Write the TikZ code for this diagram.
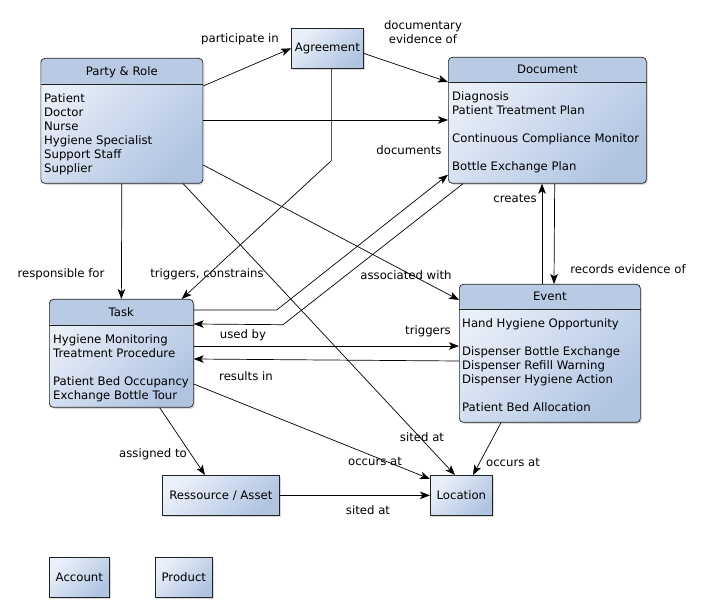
\documentclass[tikz,border=0pt]{standalone}
\usepackage{fontspec}
\setmainfont{DejaVu Sans}
\usetikzlibrary{arrows.meta,shadows}
\definecolor{headc}{RGB}{185,202,228}
\definecolor{lightc}{RGB}{234,240,249}
\definecolor{darkc}{RGB}{176,196,226}
\definecolor{edgec}{RGB}{35,35,35}
\newcommand\firstline{\rule{0pt}{10pt}}
\begin{document}
\begin{tikzpicture}[x=1pt,y=-1pt,
  every node/.style={font=\fontsize{11.7}{14}\selectfont},
  box/.style={draw=edgec, line width=0.7pt, anchor=north west, inner sep=0pt,
    top color=lightc, bottom color=darkc, shading angle=45,
    drop shadow={shadow xshift=1.5pt,shadow yshift=-1.5pt,opacity=0.3}},
  cbox/.style={box, rounded corners=4pt,
    path picture={\fill[headc] (path picture bounding box.north west) rectangle ([yshift=-#1]path picture bounding box.north east);}},
  sep/.style={draw=edgec, line width=0.7pt},
  items/.style={anchor=north west, align=left, inner sep=0pt},
  lbl/.style={anchor=base, inner sep=0pt},
  lbls/.style={anchor=north, align=center, inner sep=0pt},
  arr/.style={draw=black, line width=0.7pt, -{Stealth[length=10pt,width=7.5pt,inset=2.5pt]}}
]
\useasboundingbox (0,0) rectangle (702,612);
\fill[white] (0,0) rectangle (702,612);

% ---------- boxes ----------
\node[cbox=26pt, minimum width=162pt, minimum height=125pt] (party) at (40.5,58) {};
\draw[sep] ([yshift=-26pt]party.north west) -- ([yshift=-26pt]party.north east);
\node[lbl] (partyh) at ([yshift=-18pt]party.north) {Party \& Role};
\node[items] (partyt) at ([xshift=3.5pt,yshift=-34pt]party.north west)
  {\firstline Patient\\Doctor\\Nurse\\Hygiene Specialist\\Support Staff\\Supplier};

\node[box, minimum width=72pt, minimum height=40pt] (agree) at (291,28) {Agreement};

\node[cbox=25pt, minimum width=198pt, minimum height=126pt] (doc) at (448,57) {};
\draw[sep] ([yshift=-25pt]doc.north west) -- ([yshift=-25pt]doc.north east);
\node[lbl] (doch) at ([yshift=-17pt]doc.north) {Document};
\node[items] (doct) at ([xshift=4pt,yshift=-33pt]doc.north west)
  {\firstline Diagnosis\\Patient Treatment Plan\\[14pt]Continuous Compliance Monitor\\[14pt]Bottle Exchange Plan};

\node[cbox=26pt, minimum width=144pt, minimum height=108pt] (task) at (49,299) {};
\draw[sep] ([yshift=-26pt]task.north west) -- ([yshift=-26pt]task.north east);
\node[lbl] (taskh) at ([yshift=-18pt]task.north) {Task};
\node[items] (taskt) at ([xshift=4pt,yshift=-34pt]task.north west)
  {\firstline Hygiene Monitoring\\Treatment Procedure\\[14pt]Patient Bed Occupancy\\Exchange Bottle Tour};

\node[cbox=25pt, minimum width=181pt, minimum height=138pt] (event) at (459,284) {};
\draw[sep] ([yshift=-25pt]event.north west) -- ([yshift=-25pt]event.north east);
\node[lbl] (eventh) at ([yshift=-17pt]event.north) {Event};
\node[items] (eventt) at ([xshift=3pt,yshift=-33pt]event.north west)
  {\firstline Hand Hygiene Opportunity\\[14pt]Dispenser Bottle Exchange\\Dispenser Refill Warning\\Dispenser Hygiene Action\\[14pt]Patient Bed Allocation};

\node[box, minimum width=117pt, minimum height=40pt] (res) at (162,475) {Ressource / Asset};
\node[box, minimum width=62pt, minimum height=40pt] (loc) at (430,475) {Location};
\node[box, minimum width=60pt, minimum height=40pt] (acct) at (49,557) {Account};
\node[box, minimum width=57pt, minimum height=40pt] (prod) at (155,557) {Product};

% ---------- connectors ----------
\draw[arr] ([yshift=-28pt]party.north east) -- (agree.west);
\node[lbl] (l1) at (240,43) {participate in};

\draw[arr] ([yshift=-62pt]party.north east) -- ([yshift=-63pt]doc.north west);

\draw[arr] ([yshift=-5pt]agree.east) -- ([yshift=-25pt]doc.north west);
\node[lbls] (l3) at (423,19) {\firstline documentary\\evidence of};

\draw[arr] ([xshift=4pt]agree.south) -- ++(0,92) -- ([xshift=-12pt]task.north east);
\node[lbl] (l4) at (207,278) {triggers, constrains};

\draw[arr] (party.south) -- (task.north);
\node[lbl] (l5) at (61,278) {responsible for};

\draw[arr] ([yshift=-107pt]party.north east) -- ([yshift=-16pt]event.north west);
\node[lbl] (l6) at (406,280) {associated with};

\draw[arr] ([xshift=-20pt]party.south east) -- ([xshift=25pt]loc.north west);
\node[lbl] (l7) at (422,442) {sited at};

\draw[arr] ([yshift=-11pt]task.north east) -- ++(83,0) -- ([yshift=9pt]doc.south west);
\node[lbl] (l8) at (409,155) {documents};

\draw[arr] ([xshift=15pt]doc.south west) -- ++(-180,141) -- ([yshift=-25pt]task.north east);
\node[lbl] (l9) at (243,339) {used by};

\draw[arr] ([yshift=-47pt]task.north east) -- ([yshift=-62pt]event.north west);
\node[lbl] (l10) at (428,335) {triggers};

\draw[arr] ([yshift=-77pt]event.north west) -- ([yshift=-60pt]task.north east);
\node[lbl] (l11) at (246,381) {results in};

\draw[arr] ([xshift=-92pt]doc.south east) -- ([xshift=95pt]event.north west);
\node[lbl] (l12) at (628,274) {records evidence of};

\draw[arr] ([xshift=83pt]event.north west) -- ([xshift=94pt]doc.south west);
\node[lbl] (l13) at (515,203) {creates};

\draw[arr] ([xshift=-34pt]task.south east) -- ([xshift=43pt]res.north west);
\node[lbl] (l14) at (153,457) {assigned to};

\draw[arr] ([yshift=-85pt]task.north east) -- ([yshift=-4pt]loc.north west);
\node[lbl] (l15) at (375,465) {occurs at};

\draw[arr] ([xshift=42pt]event.south west) -- ([xshift=43pt]loc.north west);
\node[lbl] (l16) at (513,467) {occurs at};

\draw[arr] (res.east) -- (loc.west);
\node[lbl] (l17) at (368,514) {sited at};
\end{tikzpicture}
\end{document}
